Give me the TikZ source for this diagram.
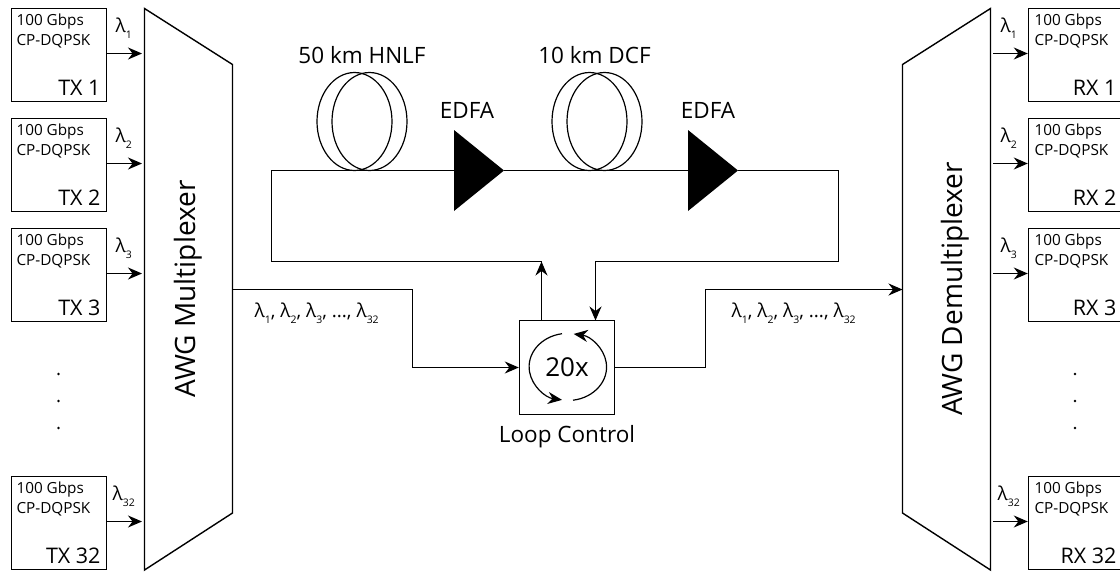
\documentclass[tikz,border=0pt]{standalone}
\usepackage{fontspec}
\setmainfont{Open Sans}
\usetikzlibrary{shapes,arrows.meta,positioning}
\newcommand{\wl}[1]{λ\raisebox{-0.6ex}{\scalebox{0.55}{#1}}}

\begin{document}
\begin{tikzpicture}[x=1pt, y=-1pt, line width=1.4pt,
                   sig/.style={-{Stealth[length=14pt,width=12pt]}},
                   unit/.style={draw, minimum width=95pt, minimum height=93pt, inner sep=0pt},
                   rate/.style={font=\fontsize{15.3}{20.5}\selectfont, align=left, inner sep=0pt},
                   unitname/.style={font=\fontsize{21.5}{24}\selectfont, inner sep=6pt},
                   wave/.style={font=\fontsize{19}{22}\selectfont, inner sep=0pt, anchor=base west},
                   comb/.style={font=\fontsize{19}{22}\selectfont, inner sep=0pt, anchor=base west},
                   title/.style={font=\fontsize{22.5}{24}\selectfont, inner sep=0pt},
                   awg/.style={font=\fontsize{28}{30}\selectfont, inner sep=0pt, rotate=90},
                   coil/.style={draw, ellipse, line width=1.2pt, minimum width=75pt, minimum height=98pt, inner sep=0pt},
                   edfa/.style={isosceles triangle, isosceles triangle stretches, fill=black,
                                minimum width=81pt, minimum height=50pt, inner sep=0pt, outer sep=0pt, anchor=lower side},
                   dot/.style={circle, fill=black, minimum size=2.6pt, inner sep=0pt}]
  \useasboundingbox (0,0) rectangle (1120,571);

  % multiplexers
  \draw (144.5,8.5) coordinate (muxtop) -- (232.5,64.5) -- (232.5,513) -- (144.5,570) coordinate (muxbot) -- cycle;
  \draw (990.5,8.5) coordinate (demuxtop) -- (902.5,64.5) coordinate (demuxa) -- (902.5,513) coordinate (demuxb) -- (990.5,570) -- cycle;
  \node[awg] (muxname) at (188,289) {AWG Multiplexer};
  \node[awg] (demuxname) at (955,289) {AWG Demultiplexer};

  % transmitters and receivers
  \foreach \i/\ypos/\wx in {1/55/115,2/165/115,3/275/115,32/523/112} {
    \node[unit] (tx\i) at (59,\ypos) {};
    \node[rate, anchor=north west] (txrate\i) at ([xshift=5pt,yshift=-5pt]tx\i.north west) {100 Gbps\\CP-DQPSK};
    \node[unitname, anchor=south east] (txname\i) at (tx\i.south east) {TX \i};
    \coordinate (txin\i) at (142,\ypos-1.5);
    \draw[sig] (tx\i.east |- txin\i) -- (txin\i);
    \node[wave] (txwl\i) at (\wx,\ypos-23) {\wl{\i}};
    \node[unit] (rx\i) at (1076,\ypos) {};
    \node[rate, anchor=north west] (rxrate\i) at ([xshift=6pt,yshift=-5pt]rx\i.north west) {100 Gbps\\CP-DQPSK};
    \node[unitname, anchor=south east] (rxname\i) at ([xshift=-1pt]rx\i.south east) {RX \i};
    \coordinate (rxout\i) at (993,\ypos-1.5);
    \draw[sig] (rxout\i) -- (rx\i.west |- rxout\i);
    \node[wave] (rxwl\i) at (\wx+885,\ypos-23) {\wl{\i}};
  }
  \foreach \ypos in {374,401,428} {
    \node[dot] (txdot\ypos) at (58.5,\ypos) {};
    \node[dot] (rxdot\ypos) at (1075,\ypos) {};
  }

  % fibre loop
  \node[coil] (hnlfa) at (354.5,121.5) {};
  \node[coil] (hnlfb) at (369.5,121.5) {};
  \node[coil] (dcfa) at (589.5,121.5) {};
  \node[coil] (dcfb) at (604.5,121.5) {};
  \node[edfa] (edfaone) at (454,170.5) {};
  \node[edfa] (edfatwo) at (688,170.5) {};
  \node[title] (hnlfname) at (362,55) {50 km HNLF};
  \node[title] (dcfname) at (594.5,55) {10 km DCF};
  \node[title] (edfaonename) at (467,110) {EDFA};
  \node[title] (edfatwoname) at (708,110) {EDFA};

  % loop control
  \node[draw, minimum width=95pt, minimum height=94pt, inner sep=0pt] (lc) at (567,367.5)
    {\fontsize{26}{28}\selectfont 20x};
  \node[title, below=9pt of lc] (lcname) {Loop Control};
  \draw[sig, line width=1.2pt] (562,333.7) arc[start angle=-99, end angle=-261, x radius=39, y radius=33.5];
  \draw[sig, line width=1.2pt] (573,400.2) arc[start angle=82, end angle=-81, x radius=39, y radius=33.5];

  \coordinate (lcup) at (541.5,320.5);
  \coordinate (lcdown) at (595.5,320.5);
  \coordinate (muxout) at (232.5,289.5);
  \coordinate (demuxin) at (902.5,289.5);

  \draw[sig] (lcup) -- (541.5,261.5);
  \draw (541.5,261.5) -- (271.5,261.5) -- (271.5,170.5) -- (edfaone.lower side);
  \draw (edfaone.apex) -- (edfatwo.lower side);
  \draw[sig] (edfatwo.apex) -- (838.5,170.5) -- (838.5,261.5) -- (595.5,261.5) -- (lcdown);
  \draw[sig] (muxout) -- (412.5,289.5) -- (412.5,367.5) -- (lc.west);
  \draw[sig] (lc.east) -- (705.5,367.5) -- (705.5,289.5) -- (demuxin);

  \node[comb] (combin) at (254,317) {\wl{1}, \wl{2}, \wl{3}, ..., \wl{32}};
  \node[comb] (combout) at (731,317) {\wl{1}, \wl{2}, \wl{3}, ..., \wl{32}};
\end{tikzpicture}
\end{document}
